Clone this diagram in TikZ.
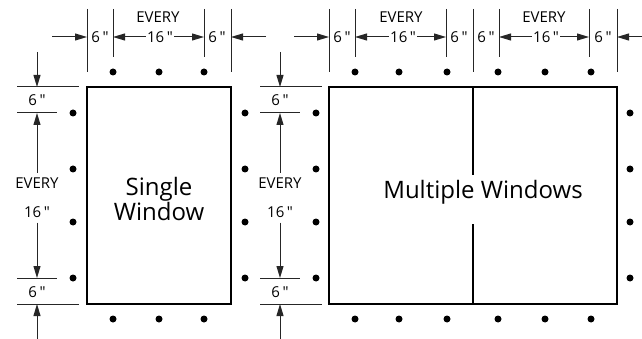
\documentclass[tikz,border=0pt]{standalone}
\usepackage{fontspec}
\setmainfont{Open Sans}[Ligatures=TeXOff]
\usetikzlibrary{positioning, arrows.meta}
\newcommand{\inch}{\,"}
\tikzstyle{dim}=[draw=black!85,line width=1pt]
\tikzstyle{dimarr}=[dim,-{Triangle[length=12pt,width=7pt]}]
\tikzstyle{lbl}=[font=\fontsize{15}{17}\selectfont,inner sep=1pt]
\tikzstyle{vlbl}=[lbl,outer sep=4pt]
\tikzstyle{big}=[font=\fontsize{24}{25}\selectfont,align=center,inner sep=0pt]
\tikzstyle{dot}=[circle,fill,inner sep=0pt,minimum size=7pt]
\tikzstyle{frame}=[draw,line width=2pt]

\begin{document}
\begin{tikzpicture}[x=1pt,y=-1pt]
\useasboundingbox (0,0) rectangle (642,339);
% windows
\draw[frame] (87,87) rectangle (231,304);
\draw[frame] (329,87) rectangle (617,304);
\node[big] (single) at (159,199) {Single\\Window};
\node[big] (multi) at (483,192) {Multiple Windows};
\coordinate (divtop) at (473,87); \coordinate (divbot) at (473,304);
\draw[frame] (divtop) -- (473,175) (473,224) -- (divbot);
% top ticks
\foreach \x/\l in {87/72,113/57,204/57,231/72,329/72,355/57,446/57,473/72,499/57,589/57,617/72} {
    \draw[dim] (\x,9) -- (\x,\l);
    \coordinate (t\x) at (\x,37);}
\foreach \x/\n in {100/a,217/b,342/c,459/d,486/e,603/f}
    \node[lbl] (six\n) at (\x,37) {6\inch};
\foreach \x/\a/\b/\n in {158/113/204/a,401/355/446/b,544/499/589/c} {
    \node[lbl] (every\n) at (\x,17) {EVERY};
    \node[lbl] (sixteen\n) at (\x+2,37) {16\inch};
    \draw[dimarr] (sixteen\n) -- (t\a);
    \draw[dimarr] (sixteen\n) -- (t\b);}
% outer arrows
\foreach \s/\e/\n in {52/87/a,266/231/b,294/329/c,642/617/d} {
    \coordinate (o\n) at (\s,37);
    \draw[dimarr] (o\n) -- (t\e);}
% side dimensions
\foreach \x/\n in {37/a,280/b} {
    \draw[dim] (\x-20,87) -- (\x+42,87) (\x-20,113) -- (\x+20,113)
               (\x-20,278) -- (\x+20,278) (\x-20,304) -- (\x+42,304);
    \node[lbl] (vsixt\n) at (\x,100) {6\inch};
    \node[lbl] (vsixb\n) at (\x,292) {6\inch};
    \node[vlbl] (vevery\n) at (\x,183) {EVERY};
    \node[vlbl] (vsixteen\n) at (\x,212) {16\inch};
    \coordinate (vtop\n) at (\x,52); \coordinate (vbot\n) at (\x,339);
    \draw[dimarr] (vtop\n) -- (\x,87);
    \draw[dimarr] (vevery\n) -- (\x,113);
    \draw[dimarr] (vsixteen\n) -- (\x,278);
    \draw[dimarr] (vbot\n) -- (\x,304);}
% dots
\foreach \x in {113,159,204,355,399,447,498,545,591}
    \foreach \y in {72,319} \node[dot] (d\x-\y) at (\x,\y) {};
\foreach \x in {73,245,316,630}
    \foreach \y in {113,169,222,278} \node[dot] (d\x-\y) at (\x,\y) {};
\end{tikzpicture}
\end{document}
